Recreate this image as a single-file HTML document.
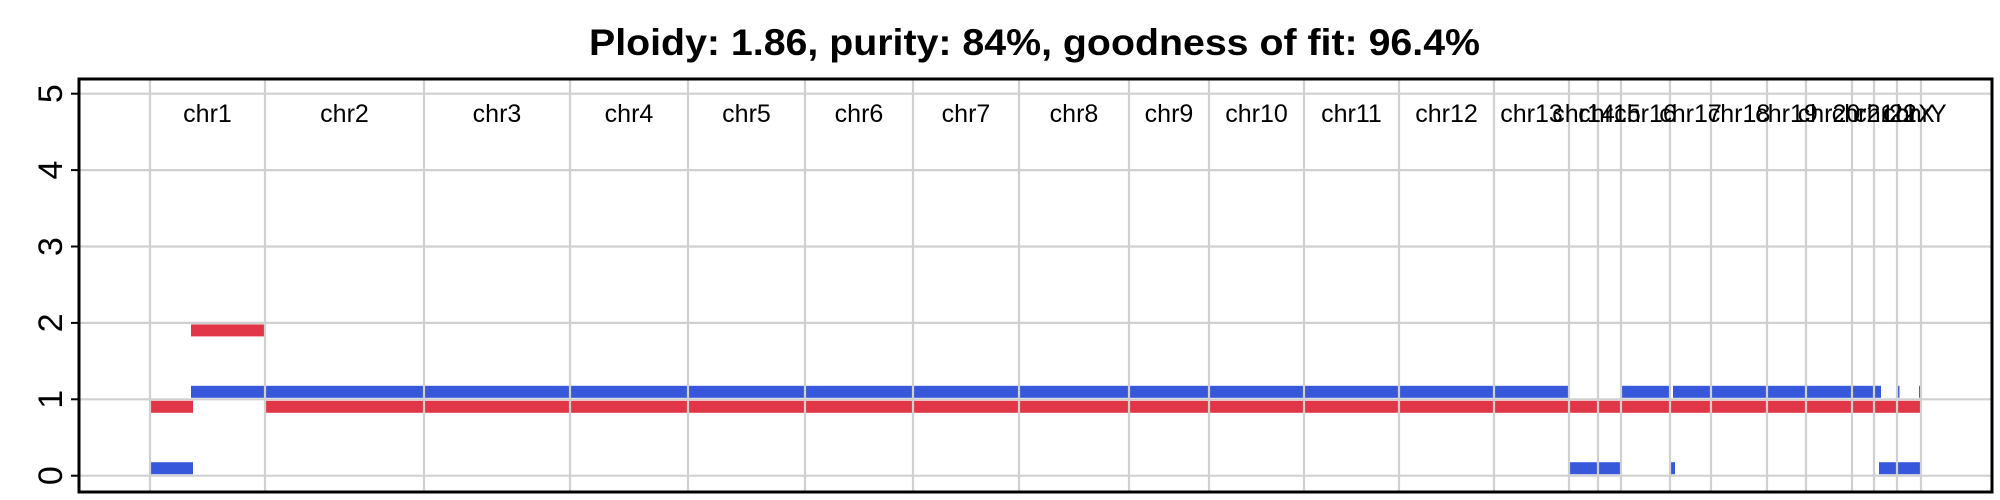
<!DOCTYPE html>
<html><head><meta charset="utf-8"><style>body{margin:0;background:#fff}svg{display:block}</style></head>
<body>
<svg id="chart" width="2000" height="500" xmlns="http://www.w3.org/2000/svg" font-family="Liberation Sans, sans-serif"></svg>
<script>
const chromNames = ["chr1","chr2","chr3","chr4","chr5","chr6","chr7","chr8","chr9","chr10","chr11","chr12","chr13","chr14","chr15","chr16","chr17","chr18","chr19","chr20","chr21","chr22","chrX","chrY"];
const chromLengths = [115,159,146,118,117,108,106,110,80,95,95,95,75,29,23,49,41,56,39,46,22,23,24,0];
const yTicks = [0,1,2,3,4,5];
const redStarts = [1,41,116];
const redEnds = [43,115,1770];
const redValues = [1,2,1];
const blueStarts = [1,41,1420,1472,1521,1523,1729,1748,1769];
const blueEnds = [43,1418,1470,1519,1525,1731,1770,1749,1770];
const blueValues = [0,1,0,1,0,1,0,1,1];
const titleText = "Ploidy: 1.86, purity: 84%, goodness of fit: 96.4%";

const svg = document.getElementById('chart');
const NS = "http://www.w3.org/2000/svg";
const X0 = 150, Y0 = 475.7, YU = 76.4;
const xs = g => X0 + g;
const ys = v => Y0 - v * YU;
function mk(tag, attrs, parent) {
  const e = document.createElementNS(NS, tag);
  for (const k in attrs) e.setAttribute(k, attrs[k]);
  (parent || svg).appendChild(e);
  return e;
}
// title
const t = mk('text', {x: 589, y: 55, 'font-size': 37, 'font-weight': 'bold', textLength: 891, lengthAdjust: 'spacingAndGlyphs'});


t.textContent = titleText;

// bars
const bars = mk('g', {});


for (let i = 0; i < redValues.length; i++) {
  const r = mk('rect', {x: xs(redStarts[i]), y: ys(redValues[i]) + 1.5, width: xs(redEnds[i]) - xs(redStarts[i]), height: 12, fill: '#e03648'}, bars);
  
  
}
for (let i = 0; i < blueValues.length; i++) {
  const r = mk('rect', {x: xs(blueStarts[i]), y: ys(blueValues[i]) - 13.5, width: Math.max(1.5, xs(blueEnds[i]) - xs(blueStarts[i])), height: 12, fill: '#3858dc'}, bars);
  
  
}

// gridlines
const grid = mk('g', {stroke: '#d0d0d0', 'stroke-width': 2.2});


yTicks.forEach(v => {
  const l = mk('line', {x1: 79, x2: 1992, y1: ys(v), y2: ys(v)}, grid);
  
  
});
let cum = 0;
const bounds = [0];
chromLengths.forEach(L => { cum += L; bounds.push(cum); });
const drawn = {};
bounds.forEach(b => {
  if (drawn[b]) return; drawn[b] = 1;
  const l = mk('line', {x1: xs(b), x2: xs(b), y1: 79, y2: 492}, grid);
  
  
});

// chrom labels
chromNames.forEach((n, i) => {
  const mid = (bounds[i] + bounds[i + 1]) / 2;
  const tx = mk('text', {x: xs(mid), y: 122, 'font-size': 25, 'text-anchor': 'middle'});
  
  
  tx.textContent = n;
});

// y axis
const ax = mk('g', {});


yTicks.forEach(v => {
  const l = mk('line', {x1: 71, x2: 79, y1: ys(v), y2: ys(v), stroke: '#000', 'stroke-width': 2}, ax);
  
  
  const tx = mk('text', {transform: `translate(62,${ys(v)}) rotate(-90)`, 'font-size': 34, 'text-anchor': 'middle'}, ax);
  
  
  tx.textContent = v;
});

// frame
const f = mk('rect', {x: 79, y: 79, width: 1913, height: 413, fill: 'none', stroke: '#000', 'stroke-width': 3});


</script>
</body></html>
